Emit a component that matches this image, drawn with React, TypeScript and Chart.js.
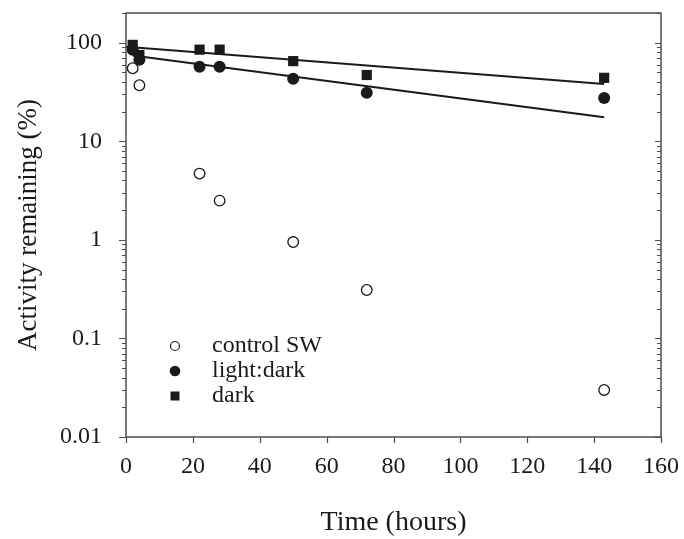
import React, { useEffect, useRef } from "react";
import { Chart, registerables } from "chart.js";

Chart.register(...registerables);

// ---- data ----
const hours = [2, 4, 22, 28, 50, 72, 143];
const controlSW = [55, 37, 4.7, 2.5, 0.95, 0.31, 0.03];
const lightDark = [85, 67, 57, 57, 43, 31, 27.5];
const dark = [95, 75, 85, 85, 65, 47, 44];

const lightDarkFitX = [2, 143];
const lightDarkFit = [74, 17.5];
const darkFitX = [0, 143];
const darkFit = [91, 38];

const xTickLabels = ["0", "20", "40", "60", "80", "100", "120", "140", "160"];
const yMajorTicks = [0.01, 0.1, 1, 10, 100];
const yTickLabels = ["0.01", "0.1", "1", "10", "100"];

const seriesLabels = ["control SW", "light:dark", "dark"];

const INK = "#1a1a1a";
const AXIS = "#4d4d4d";
const FONT = "'Liberation Serif', 'Times New Roman', serif";

const toPoints = (xs: number[], ys: number[]) => xs.map((x, i) => ({ x, y: ys[i] }));

function isMajor(v: number) {
  return yMajorTicks.some((m) => Math.abs(m - v) / m < 1e-6);
}

const framePlugin = {
  id: "frame",
  afterDraw(chart: any) {
    const ctx = chart.ctx as CanvasRenderingContext2D;
    const { left, right, top, bottom } = chart.chartArea;
    const xs = chart.scales.x;
    const ys = chart.scales.y;
    ctx.save();
    ctx.strokeStyle = AXIS;
    ctx.lineWidth = 1.5;
    ctx.strokeRect(left, top, right - left, bottom - top);
    ctx.lineWidth = 1.2;
    ctx.beginPath();
    for (const t of ys.ticks) {
      const py = Math.round(ys.getPixelForValue(t.value)) + 0.5;
      if (py < top - 1 || py > bottom + 1) continue;
      const major = isMajor(t.value);
      const lo = major ? 7 : 4;
      const ri = major ? 6 : 4;
      ctx.moveTo(left - lo, py);
      ctx.lineTo(left, py);
      ctx.moveTo(right - ri, py);
      ctx.lineTo(right, py);
    }
    for (const t of xs.ticks) {
      const px = Math.round(xs.getPixelForValue(t.value)) + 0.5;
      ctx.moveTo(px, bottom);
      ctx.lineTo(px, bottom + 6);
    }
    ctx.stroke();

    // legend
    const lx = left + 49;
    const tx = left + 86;
    const rows = [top + 333, top + 358, top + 383];
    ctx.font = `24px ${FONT}`;
    ctx.textBaseline = "middle";
    ctx.textAlign = "left";
    chart.data.datasets.slice(0, 3).forEach((ds: any, i: number) => {
      const y = rows[i];
      ctx.fillStyle = INK;
      ctx.strokeStyle = INK;
      ctx.lineWidth = 1.2;
      if (ds.pointStyle === "rect") {
        ctx.fillRect(lx - 4.5, y - 4.5, 9, 9);
      } else {
        ctx.beginPath();
        ctx.arc(lx, y, i === 0 ? 4.5 : 5.3, 0, Math.PI * 2);
        if (i === 0) {
          ctx.fillStyle = "#fff";
          ctx.fill();
          ctx.stroke();
        } else {
          ctx.fill();
        }
      }
      ctx.fillStyle = INK;
      ctx.fillText(ds.label, tx, y);
    });
    ctx.restore();
  },
};

export default function App() {
  const ref = useRef<HTMLCanvasElement>(null);
  useEffect(() => {
    if (!ref.current) return;
    const chart = new Chart(ref.current, {
      type: "scatter",
      data: {
        datasets: [
          {
            label: seriesLabels[0],
            data: toPoints(hours, controlSW),
            pointStyle: "circle",
            pointRadius: 5.3,
            pointBackgroundColor: "#ffffff",
            pointBorderColor: INK,
            pointBorderWidth: 1.3,
            showLine: false,
          },
          {
            label: seriesLabels[1],
            data: toPoints(hours, lightDark),
            pointStyle: "circle",
            pointRadius: 6,
            pointBackgroundColor: INK,
            pointBorderColor: INK,
            pointBorderWidth: 0,
            showLine: false,
          },
          {
            label: seriesLabels[2],
            data: toPoints(hours, dark),
            pointStyle: "rect",
            pointRadius: 7.2,
            pointBackgroundColor: INK,
            pointBorderColor: INK,
            pointBorderWidth: 0,
            showLine: false,
          },
          {
            label: "",
            data: toPoints(lightDarkFitX, lightDarkFit),
            showLine: true,
            pointRadius: 0,
            borderColor: INK,
            borderWidth: 2,
          },
          {
            label: "",
            data: toPoints(darkFitX, darkFit),
            showLine: true,
            pointRadius: 0,
            borderColor: INK,
            borderWidth: 2,
          },
        ],
      },
      options: {
        animation: false,
        responsive: false,
        maintainAspectRatio: false,
        layout: { padding: { top: 13, right: 23, left: 0, bottom: 0 } },
        plugins: { legend: { display: false }, tooltip: { enabled: false } },
        scales: {
          x: {
            type: "linear",
            min: 0,
            max: 160,
            grid: { display: false },
            border: { display: false },
            ticks: {
              stepSize: 20,
              padding: 7,
              color: INK,
              font: { family: FONT, size: 24 },
              callback: (v: any) => xTickLabels[Math.round(Number(v) / 20)] ?? "",
              maxRotation: 0,
            },
            title: {
              display: true,
              text: "Time (hours)",
              color: INK,
              font: { family: FONT, size: 28 },
              padding: { top: 0, bottom: 0 },
            },
            afterFit: (s: any) => {
              s.height = 102;
              s.paddingLeft = 0;
              s.paddingRight = 0;
              s.paddingTop = 0;
              s.paddingBottom = 0;
            },
          },
          y: {
            type: "logarithmic",
            min: 0.01,
            max: 200,
            grid: { display: false },
            border: { display: false },
            afterBuildTicks: (s: any) => {
              const t: any[] = [];
              for (const d of [0.01, 0.1, 1, 10, 100]) {
                for (let k = 1; k <= 9; k++) {
                  const v = d * k;
                  if (v <= 200 + 1e-9) t.push({ value: v, major: k === 1 });
                }
              }
              s.ticks = t;
            },
            ticks: {
              autoSkip: false,
              padding: 16,
              color: INK,
              font: { family: FONT, size: 24 },
              callback: (v: any) => {
                const idx = yMajorTicks.findIndex((m) => Math.abs(m - Number(v)) / m < 1e-6);
                return idx >= 0 ? yTickLabels[idx] : "";
              },
            },
            title: {
              display: true,
              text: "Activity remaining (%)",
              color: INK,
              font: { family: FONT, size: 27 },
              padding: { top: 13, bottom: 0 },
            },
            afterFit: (s: any) => {
              s.width = 126;
              s.paddingLeft = 0;
              s.paddingRight = 0;
              s.paddingTop = 0;
              s.paddingBottom = 0;
            },
          },
        },
      },
      plugins: [framePlugin],
    });
    return () => chart.destroy();
  }, []);
  return (
    <div style={{ position: "fixed", left: 0, top: 0, width: 684, height: 539, background: "#fff" }}>
      <canvas ref={ref} width={684} height={539} style={{ width: 684, height: 539 }} />
    </div>
  );
}
